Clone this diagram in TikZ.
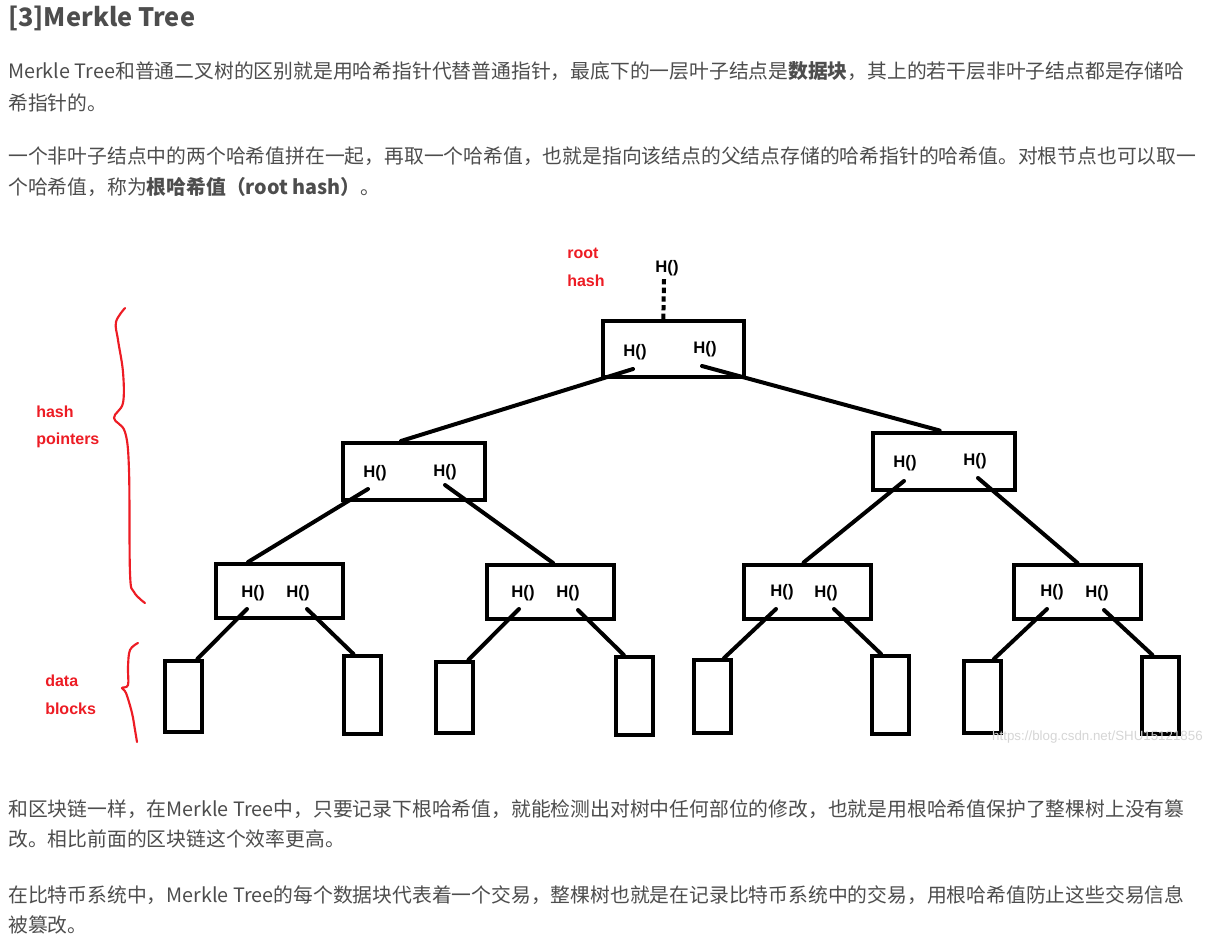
\documentclass[tikz,border=0pt]{standalone}
\usepackage{fontspec}
\setmainfont{Noto Sans CJK SC}
\newfontfamily\paintfont{Liberation Sans}
\usetikzlibrary{calc}
\definecolor{bodygray}{HTML}{4D4D4D}
\definecolor{paintred}{HTML}{ED1C24}
\definecolor{markgray}{HTML}{D6D6D6}

\begin{document}
\begin{tikzpicture}[x=0.75pt,y=-0.75pt,
  bodyline/.style={anchor=west,inner sep=0pt,text=bodygray,font=\fontsize{14.85}{18}\selectfont},
  hashbox/.style={draw,line width=3pt,inner sep=0pt,minimum width=106pt},
  leafbox/.style={draw,line width=3pt,inner sep=0pt,minimum width=27.75pt},
  hashtext/.style={inner sep=0pt,font=\paintfont\bfseries\fontsize{12.5}{14}\selectfont},
  redtext/.style={anchor=west,inner sep=0pt,text=paintred,font=\paintfont\bfseries\fontsize{12}{14}\selectfont},
  hashlink/.style={line width=3pt,line cap=round},
  redbrace/.style={paintred,line width=1.6pt,line cap=round,line join=round}]

\useasboundingbox[fill=white] (0,0) rectangle (1205,939);

\node[anchor=west,inner sep=0pt,text=bodygray,font=\bfseries\fontsize{19}{23}\selectfont] (title) at (8,18) {[3]Merkle Tree};

\node[bodyline] (p1a) at (8,71) {Merkle Tree和普通二叉树的区别就是用哈希指针代替普通指针，最底下的一层叶子结点是\textbf{数据块}，其上的若干层非叶子结点都是存储哈};

\node[bodyline] (p1b) at (8,103) {希指针的。};

\node[bodyline] (p2a) at (8,156) {一个非叶子结点中的两个哈希值拼在一起，再取一个哈希值，也就是指向该结点的父结点存储的哈希指针的哈希值。对根节点也可以取一};

\node[bodyline] (p2b) at (8,187) {个哈希值，称为\textbf{根哈希值（root hash）}。};

\node[bodyline] (p3a) at (8,809) {和区块链一样，在Merkle Tree中，只要记录下根哈希值，就能检测出对树中任何部位的修改，也就是用根哈希值保护了整棵树上没有篡};

\node[bodyline] (p3b) at (8,839) {改。相比前面的区块链这个效率更高。};

\node[bodyline] (p4a) at (8,895) {在比特币系统中，Merkle Tree的每个数据块代表着一个交易，整棵树也就是在记录比特币系统中的交易，用根哈希值防止这些交易信息};

\node[bodyline] (p4b) at (8,925) {被篡改。};

\node[redtext] (rootw) at (567,253) {root};

\node[redtext] (rooth) at (567,281) {hash};

\node[redtext] (ptrw) at (36,412) {hash};

\node[redtext] (ptrh) at (36,440) {pointers};

\node[redtext] (dataw) at (45,681) {data};

\node[redtext] (datah) at (45,709) {blocks};

\node[hashtext] (top) at (667,268) {H()};

\node[hashbox,minimum height=42pt] (root) at (673.5,349) {};

\node[hashtext] (rl) at (635,352) {H()};

\node[hashtext] (rr) at (705,349) {H()};

\node[hashbox,minimum height=42.75pt] (la) at (414,471.5) {};

\node[hashtext] (lal) at (375,473) {H()};

\node[hashtext] (lar) at (445,472) {H()};

\node[hashbox,minimum height=42.75pt] (ra) at (944,461) {};

\node[hashtext] (ral) at (905,463) {H()};

\node[hashtext] (rar) at (975,461) {H()};

\node[hashbox,minimum width=95.25pt,minimum height=40.5pt] (b1) at (279.5,591) {};

\node[hashtext] (b1l) at (253,593) {H()};

\node[hashtext] (b1r) at (298,593) {H()};

\node[hashbox,minimum width=95.25pt,minimum height=40.5pt] (b2) at (550.5,592) {};

\node[hashtext] (b2l) at (523,593) {H()};

\node[hashtext] (b2r) at (568,593) {H()};

\node[hashbox,minimum width=95.25pt,minimum height=40.5pt] (b3) at (807.5,591.5) {};

\node[hashtext] (b3l) at (782,592) {H()};

\node[hashtext] (b3r) at (826,593) {H()};

\node[hashbox,minimum width=95.25pt,minimum height=40.5pt] (b4) at (1077.5,592) {};

\node[hashtext] (b4l) at (1052,592) {H()};

\node[hashtext] (b4r) at (1097,593) {H()};

\node[leafbox,minimum height=53.5pt] (d1) at (183.5,696.5) {};

\node[leafbox,minimum height=58.5pt] (d2) at (362.5,695) {};

\node[leafbox,minimum height=53.5pt] (d3) at (454.5,697.5) {};

\node[leafbox,minimum height=58.5pt] (d4) at (634.5,696) {};

\node[leafbox,minimum height=54.5pt] (d5) at (712,696.5) {};

\node[leafbox,minimum height=58.5pt] (d6) at (890.5,695) {};

\node[leafbox,minimum height=54pt] (d7) at (982,697) {};

\node[leafbox,minimum height=58pt] (d8) at (1160.5,695.5) {};

\node[anchor=east,inner sep=0pt,text=markgray,font=\paintfont\fontsize{10}{12}\selectfont] (mark) at (1203,737) {https://blog.csdn.net/SHU15121856};

\draw[line width=3pt,dash pattern=on 4pt off 2.5pt] ($(top.south)+(-3,3)$) -- ($(root.north west)!0.43!(root.north east)$);

\draw[hashlink] ($(rl)+(-2,17)$) -- ($(la.north west)!0.41!(la.north east)$);

\draw[hashlink] ($(rr)+(-3,17)$) -- ($(ra.north west)!0.47!(ra.north east)$);

\draw[hashlink] ($(lal)+(-7,16)$) -- ($(b1.north west)!0.26!(b1.north east)$);

\draw[hashlink] ($(lar)+(0,13)$) -- ($(b2.north west)!0.52!(b2.north east)$);

\draw[hashlink] ($(ral)+(-1,18)$) -- ($(b3.north west)!0.47!(b3.north east)$);

\draw[hashlink] ($(rar)+(3,17)$) -- ($(b4.north west)!0.50!(b4.north east)$);

\draw[hashlink] ($(b1l)+(-6,16)$) -- ($(d1.north west)!0.84!(d1.north east)$);

\draw[hashlink] ($(b1r)+(9,16)$) -- ($(d2.north west)!0.28!(d2.north east)$);

\draw[hashlink] ($(b2l)+(-4,16)$) -- ($(d3.north west)!0.84!(d3.north east)$);

\draw[hashlink] ($(b2r)+(10,17)$) -- ($(d4.north west)!0.24!(d4.north east)$);

\draw[hashlink] ($(b3l)+(-6,17)$) -- ($(d5.north west)!0.79!(d5.north east)$);

\draw[hashlink] ($(b3r)+(8,16)$) -- ($(d6.north west)!0.27!(d6.north east)$);

\draw[hashlink] ($(b4l)+(-5,17)$) -- ($(d7.north west)!0.79!(d7.north east)$);

\draw[hashlink] ($(b4r)+(7,17)$) -- ($(d8.north west)!0.30!(d8.north east)$);

\draw[redbrace] plot[smooth,tension=0.6] coordinates {(125,308) (116,322) (118,340) (123,372) (123,403) (114,418) (125,432) (129,470) (130,573) (134,592) (145,603)};

\draw[redbrace] plot[smooth,tension=0.6] coordinates {(138,643) (130,650) (128,667) (128,685) (122,688) (126,693) (132,713) (135,730) (137,742)};

\end{tikzpicture}
\end{document}
